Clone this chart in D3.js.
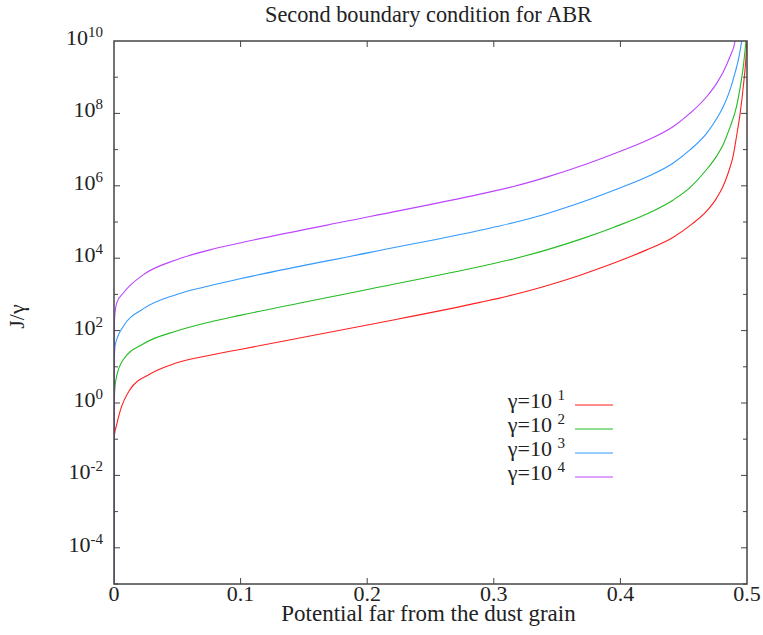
<!DOCTYPE html>
<html>
<head>
<meta charset="utf-8">
<script src="https://cdn.jsdelivr.net/npm/d3@7"></script>
<style>
  body { margin: 0; background: #fff; }
</style>
</head>
<body>
<div id="svg-container"></div>
<script>
var CONFIGSVG = { width: 763, height: 635 };
var margin = { left: 114, right: 16, top: 41, bottom: 51 };
var FONT = "'Liberation Serif', 'Times New Roman', Times, 'DejaVu Serif', serif";

// x positions (potential) and log10(J/gamma), one pair per curve
var redX = [0, 0.0003, 0.0021, 0.0047, 0.0126, 0.0284, 0.0495, 0.0758, 0.0995, 0.2022, 0.2891, 0.3154, 0.3418, 0.3681, 0.3944, 0.4207, 0.4418, 0.4549, 0.4681, 0.476, 0.4813, 0.4852, 0.4892, 0.4918, 0.4945, 0.4971, 0.4992, 0.5];
var redLog = [-6, -0.9, -0.6, -0.24, 0.37, 0.8, 1.11, 1.32, 1.48, 2.17, 2.78, 2.99, 3.24, 3.53, 3.86, 4.23, 4.58, 4.9, 5.3, 5.66, 6.0, 6.36, 6.85, 7.38, 7.98, 8.75, 9.55, 10.1];

var greenX = [0, 0.0003, 0.0008, 0.0021, 0.0074, 0.023, 0.0495, 0.0758, 0.0995, 0.2022, 0.2891, 0.3154, 0.3418, 0.3681, 0.3944, 0.4207, 0.4418, 0.4549, 0.4681, 0.476, 0.4813, 0.4866, 0.4918, 0.4945, 0.4971, 0.4992, 0.4998];
var greenLog = [-6, 0.1, 0.46, 0.74, 1.2, 1.63, 1.99, 2.24, 2.42, 3.15, 3.77, 3.98, 4.23, 4.52, 4.85, 5.22, 5.61, 5.95, 6.45, 6.82, 7.15, 7.62, 8.2, 8.7, 9.3, 10.0, 10.2];

var blueX = [0, 0.0003, 0.0008, 0.0021, 0.0074, 0.023, 0.0495, 0.0758, 0.0995, 0.2022, 0.2891, 0.3154, 0.3418, 0.3681, 0.3944, 0.4207, 0.4418, 0.4549, 0.4681, 0.476, 0.4813, 0.4866, 0.4905, 0.4937, 0.4958, 0.4965];
var blueLog = [-6, 1.2, 1.57, 1.75, 2.12, 2.6, 3.0, 3.24, 3.43, 4.16, 4.77, 4.98, 5.23, 5.53, 5.87, 6.24, 6.63, 6.99, 7.45, 7.85, 8.19, 8.65, 9.11, 9.57, 10.0, 10.2];

var purpleX = [0, 0.0003, 0.0008, 0.0021, 0.0074, 0.023, 0.0495, 0.0758, 0.0995, 0.2022, 0.2891, 0.3154, 0.3418, 0.3681, 0.3944, 0.4207, 0.4418, 0.4549, 0.4681, 0.476, 0.4813, 0.4866, 0.4905, 0.4915];
var purpleLog = [-6, 2.2, 2.49, 2.76, 3.04, 3.54, 3.96, 4.23, 4.42, 5.15, 5.77, 5.98, 6.24, 6.54, 6.88, 7.25, 7.64, 8.0, 8.46, 8.83, 9.15, 9.57, 9.98, 10.2];

var seriesNames = ['1', '2', '3', '4'];
var seriesColors = ['#ff2020', '#22bb22', '#3399ff', '#bb44ff'];
var xTicks = [0, 0.1, 0.2, 0.3, 0.4, 0.5];
var yMajorExp = [10, 8, 6, 4, 2, 0, -2, -4];
var yMinorExp = [9, 7, 5, 3, 1, -1, -3, -5];

var series = [
	{ xs: redX, ys: redLog },
	{ xs: greenX, ys: greenLog },
	{ xs: blueX, ys: blueLog },
	{ xs: purpleX, ys: purpleLog }
];

var svg = d3
	.select('#svg-container')
	.append('svg')
	.attr('width', CONFIGSVG.width)
	.attr('height', CONFIGSVG.height)
	.attr('font-family', FONT)
	.style('font-family', FONT);

var x = d3.scaleLinear().domain([0, 0.5]).range([margin.left, CONFIGSVG.width - margin.right]);
var y = d3.scaleLog().domain([1e-5, 1e10]).range([CONFIGSVG.height - margin.bottom, margin.top]);

var x0 = x.range()[0], x1 = x.range()[1];
var yB = y.range()[0], yT = y.range()[1];

svg.append('clipPath').attr('id', 'plot-clip')
	.append('rect')
	.attr('x', x0).attr('y', yT)
	.attr('width', x1 - x0).attr('height', yB - yT);

// curves
var line = d3.line()
	.x((d) => x(d[0]))
	.y((d) => y(Math.pow(10, d[1])))
	.curve(d3.curveMonotoneX);

var curves = svg.append('g').attr('clip-path', 'url(#plot-clip)');
series.forEach((s, i) => {
	var pts = s.xs.map((v, k) => [v, s.ys[k]]);
	curves.append('path')
		.attr('d', line(pts))
		.attr('fill', 'none')
		.attr('stroke', seriesColors[i])
		.attr('stroke-width', 1.1);
});

// frame + ticks
var axisColor = '#444';
svg.append('rect')
	.attr('x', x0).attr('y', yT)
	.attr('width', x1 - x0).attr('height', yB - yT)
	.attr('fill', 'none')
	.attr('stroke', axisColor)
	.attr('stroke-width', 1.5);

var ticks = svg.append('g').attr('stroke', axisColor).attr('stroke-width', 1);
xTicks.slice(1, -1).forEach((t) => {
	ticks.append('line').attr('x1', x(t)).attr('x2', x(t)).attr('y1', yB).attr('y2', yB - 6);
	ticks.append('line').attr('x1', x(t)).attr('x2', x(t)).attr('y1', yT).attr('y2', yT + 6);
});
yMajorExp.concat(yMinorExp).forEach((e) => {
	var len = yMajorExp.indexOf(e) >= 0 ? 6 : 4;
	var py = y(Math.pow(10, e));
	if (e === 10) return;
	ticks.append('line').attr('x1', x0).attr('x2', x0 + len).attr('y1', py).attr('y2', py);
	ticks.append('line').attr('x1', x1).attr('x2', x1 - len).attr('y1', py).attr('y2', py);
});

var txt = (sel) => sel.attr('font-family', FONT).attr('fill', '#222');

// x tick labels
svg.append('g').selectAll('text')
	.data(xTicks)
	.join('text')
	.call(txt)
	.attr('x', (d) => x(d))
	.attr('y', yB + 17)
	.attr('text-anchor', 'middle')
	.attr('font-size', 22)
	.text((d) => (d === 0 ? '0' : d3.format('.1f')(d)));

// y tick labels with superscripts
yMajorExp.forEach((e) => {
	var t = svg.append('text')
		.call(txt)
		.attr('x', x0 - 11)
		.attr('y', y(Math.pow(10, e)) + 4)
		.attr('text-anchor', 'end')
		.attr('font-size', 22);
	t.append('tspan').text('10');
	t.append('tspan').attr('dy', -8).attr('font-size', 15).text(e);
});

// titles
svg.append('text')
	.call(txt)
	.attr('x', (x0 + x1) / 2 - 2)
	.attr('y', 22)
	.attr('text-anchor', 'middle')
	.attr('font-size', 22.3)
	.text('Second boundary condition for ABR');

svg.append('text')
	.call(txt)
	.attr('x', (x0 + x1) / 2 - 2)
	.attr('y', 621)
	.attr('text-anchor', 'middle')
	.attr('font-size', 23)
	.text('Potential far from the dust grain');

svg.append('text')
	.call(txt)
	.attr('transform', 'translate(24,' + ((yB + yT) / 2 + 4) + ') rotate(-90)')
	.attr('text-anchor', 'middle')
	.attr('font-size', 22)
	.text('J/γ');

// legend
var legend = svg.append('g');
seriesNames.forEach((n, i) => {
	var ly = 405 + i * 24;
	var t = legend.append('text')
		.call(txt)
		.attr('x', 565)
		.attr('y', ly + 3)
		.attr('text-anchor', 'end')
		.attr('font-size', 22);
	t.append('tspan').text('γ=10 ');
	t.append('tspan').attr('dy', -8).attr('font-size', 15).text(n);
	legend.append('line')
		.attr('x1', 575).attr('x2', 613)
		.attr('y1', ly).attr('y2', ly)
		.attr('stroke', seriesColors[i])
		.attr('stroke-width', 1.1);
});
</script>
</body>
</html>
